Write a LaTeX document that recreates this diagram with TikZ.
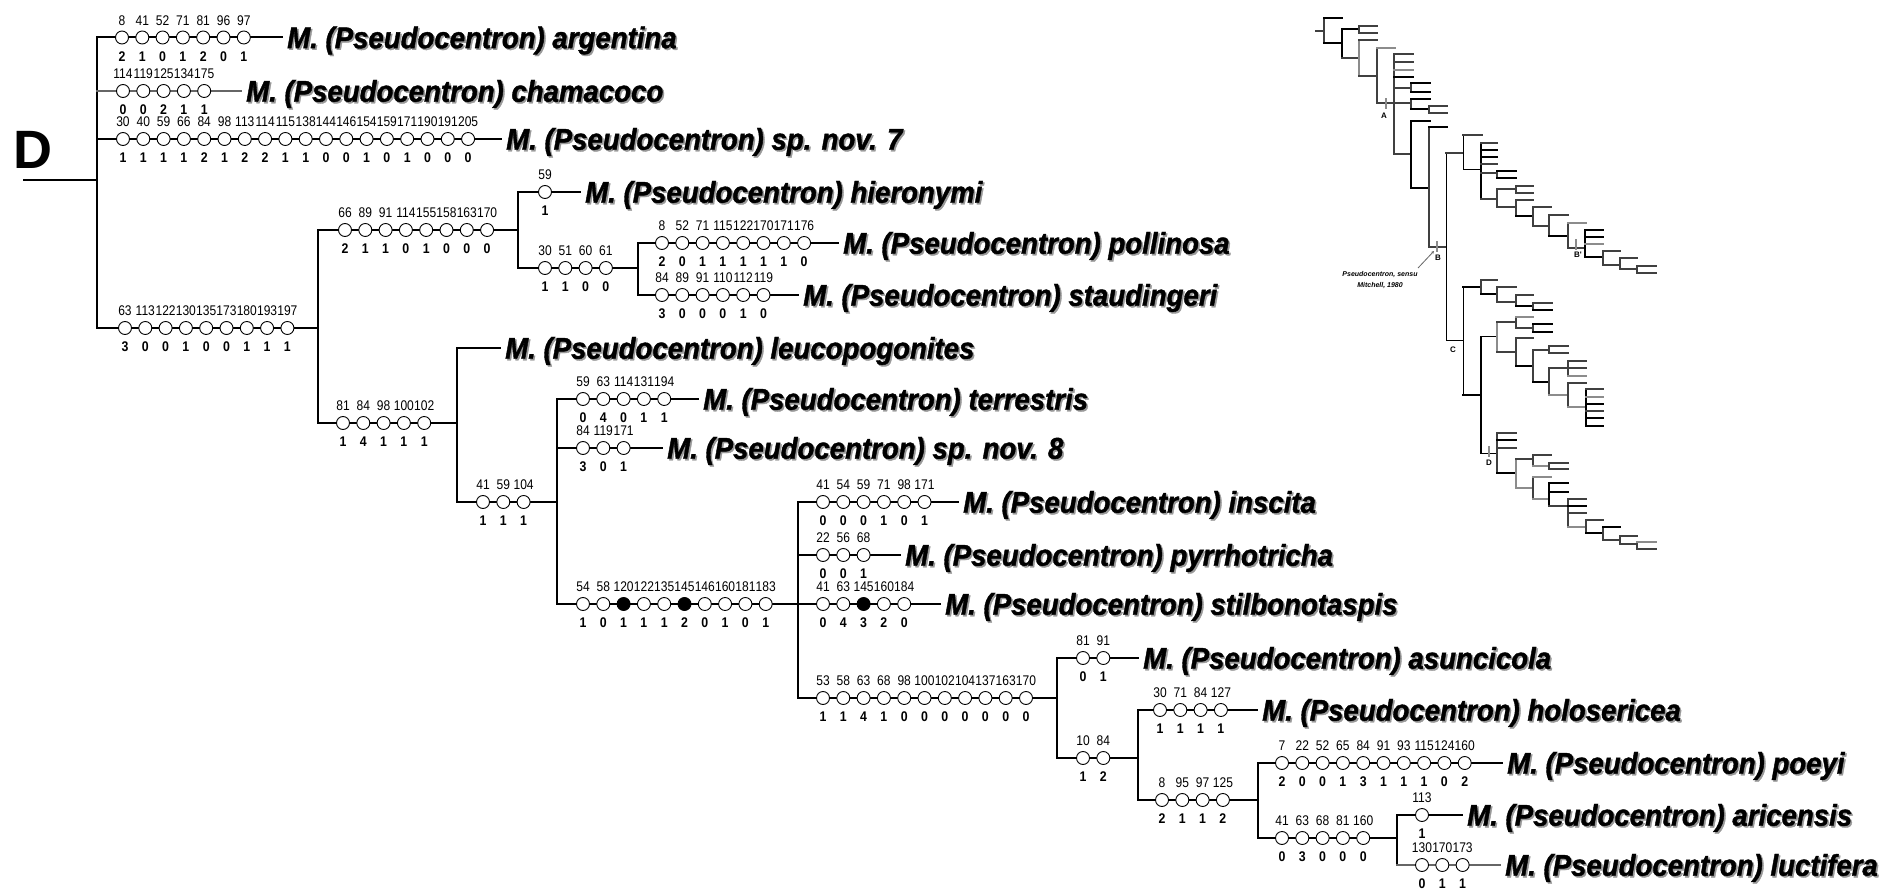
\documentclass[tikz,border=0pt]{standalone}
\usepackage{fontspec}
\setmainfont{Liberation Sans}
\newfontfamily\taxfam[FakeStretch=0.92,FakeBold=1.3]{Liberation Sans}
\newfontfamily\numfam[FakeStretch=0.86]{Liberation Sans}
\newfontfamily\valfam[FakeStretch=0.88]{Liberation Sans}
\newfontfamily\plainfam{Liberation Sans}
\usetikzlibrary{arrows.meta}
\pgfdeclarelayer{bg}
\pgfsetlayers{bg,main}
\tikzset{
  br/.style={line width=2pt, black, line cap=rect},
  grbr/.style={line width=2pt, black!60, line cap=rect},
  ch/.style={circle, draw=black, fill=white, line width=0.9pt, minimum size=13pt, inner sep=0pt},
  chf/.style={ch, fill=black},
  topnum/.style={font=\fontsize{14}{14}\selectfont\numfam, inner sep=0pt},
  botnum/.style={font=\fontsize{14}{14}\selectfont\valfam\bfseries, inner sep=0pt},
  taxon/.style={font=\fontsize{30}{32}\selectfont\taxfam\bfseries\itshape, anchor=base west, inner sep=0pt},
  taxshadow/.style={taxon, text=black!40},
  insa/.style={line width=1.4pt, black!75, line cap=rect},
  insb/.style={line width=2.2pt, black, line cap=rect},
  insc/.style={line width=1.4pt, black!45, line cap=rect},
  insd/.style={line width=1pt, black, line cap=rect},
  inlab/.style={font=\fontsize{8}{8}\selectfont\plainfam\bfseries, inner sep=0pt},
  innote/.style={font=\fontsize{7}{7}\selectfont\plainfam\bfseries\itshape, inner sep=0pt},
}
\newcommand\charrow[4]{%
  \foreach \chN/\chV/\chS [count=\chI] in {#4}{%
    \node[\chS] (#1c\chI) at ({#2+(\chI-1)*20.3},#3) {};
    \node[topnum] (#1a\chI) at ({#2+(\chI-1)*20.3},{#3-17}) {\chN};
    \node[botnum] (#1b\chI) at ({#2+(\chI-1)*20.3},{#3+19}) {\chV};
  }}
\newcommand\taxon[4]{%
  \node[taxshadow] (#1s) at ({#2+1.6},{#3+12.3}) {M. (Pseudocentron) #4};
  \node[taxon] (#1) at (#2,{#3+10.7}) {M. (Pseudocentron) #4};}
\newcommand\insH[4][insa]{\draw[#1] (#2,#4) -- (#3,#4);}
\newcommand\insV[4][insa]{\draw[#1] (#2,#3) -- (#2,#4);}
\begin{document}
\begin{tikzpicture}[x=1pt,y=-1pt]
\useasboundingbox (0,0) rectangle (1899,893);

% ---------- coordinates of branch starts / ends
\coordinate (root) at (24,180);
\coordinate (j0) at (97,180);
\coordinate (s1) at (97,37.5);
\coordinate (s2) at (97,91);
\coordinate (s3) at (97,139);
\coordinate (s4) at (97,328);
\coordinate (e4) at (318,328);
\coordinate (s5) at (318,230);
\coordinate (e5) at (518,230);
\coordinate (s6) at (518,192);
\coordinate (s7) at (518,268);
\coordinate (e7) at (638,268);
\coordinate (s8) at (638,243);
\coordinate (s9) at (638,295);
\coordinate (s10) at (318,423);
\coordinate (e10) at (457,423);
\coordinate (s11) at (457,348);
\coordinate (s12) at (457,502);
\coordinate (e12) at (557,502);
\coordinate (s13) at (557,399);
\coordinate (s14) at (557,448);
\coordinate (s15) at (557,604);
\coordinate (e15) at (798,604);
\coordinate (s16) at (798,502);
\coordinate (s17) at (798,555);
\coordinate (s18) at (798,604);
\coordinate (s19) at (798,698);
\coordinate (e19) at (1057,698);
\coordinate (s20) at (1057,658);
\coordinate (s21) at (1057,758);
\coordinate (e21) at (1138,758);
\coordinate (s22) at (1138,710);
\coordinate (s23) at (1138,800);
\coordinate (e23) at (1258,800);
\coordinate (s24) at (1258,763);
\coordinate (s25) at (1258,838);
\coordinate (e25) at (1397,838);
\coordinate (s26) at (1397,815);
\coordinate (s27) at (1397,865);

% ---------- root label
\node[font=\fontsize{54}{54}\selectfont\plainfam\bfseries, inner sep=0pt] (Dlab) at (33,150) {D};

% ---------- taxa
\taxon{t1}{287}{37.5}{argentina}
\taxon{t2}{246}{91}{chamacoco}
\taxon{t3}{506}{139}{sp. nov. 7}
\taxon{t6}{585}{192}{hieronymi}
\taxon{t8}{843}{243}{pollinosa}
\taxon{t9}{803}{295}{staudingeri}
\taxon{t11}{505}{348}{leucopogonites}
\taxon{t13}{703}{399}{terrestris}
\taxon{t14}{667}{448}{sp. nov. 8}
\taxon{t16}{963}{502}{inscita}
\taxon{t17}{905}{555}{pyrrhotricha}
\taxon{t18}{945}{604}{stilbonotaspis}
\taxon{t20}{1143}{658}{asuncicola}
\taxon{t22}{1262}{710}{holosericea}
\taxon{t24}{1507}{763}{poeyi}
\taxon{t26}{1467}{815}{aricensis}
\taxon{t27}{1505}{865}{luctifera}

% ---------- character states
\charrow{arg}{122}{37.5}{8/2/ch,41/1/ch,52/0/ch,71/1/ch,81/2/ch,96/0/ch,97/1/ch}
\charrow{cha}{123}{91}{114/0/ch,119/0/ch,125/2/ch,134/1/ch,175/1/ch}
\charrow{spa}{123}{139}{30/1/ch,40/1/ch,59/1/ch,66/1/ch,84/2/ch,98/1/ch,113/2/ch,114/2/ch,115/1/ch,138/1/ch,144/0/ch,146/0/ch,154/1/ch,159/0/ch,171/1/ch,190/0/ch,191/0/ch,205/0/ch}
\charrow{bfour}{125}{328}{63/3/ch,113/0/ch,122/0/ch,130/1/ch,135/0/ch,173/0/ch,180/1/ch,193/1/ch,197/1/ch}
\charrow{bfive}{345}{230}{66/2/ch,89/1/ch,91/1/ch,114/0/ch,155/1/ch,158/0/ch,163/0/ch,170/0/ch}
\charrow{hie}{545}{192}{59/1/ch}
\charrow{bseven}{545}{268}{30/1/ch,51/1/ch,60/0/ch,61/0/ch}
\charrow{pol}{662}{243}{8/2/ch,52/0/ch,71/1/ch,115/1/ch,122/1/ch,170/1/ch,171/1/ch,176/0/ch}
\charrow{sta}{662}{295}{84/3/ch,89/0/ch,91/0/ch,110/0/ch,112/1/ch,119/0/ch}
\charrow{bten}{343}{423}{81/1/ch,84/4/ch,98/1/ch,100/1/ch,102/1/ch}
\charrow{btwelve}{483}{502}{41/1/ch,59/1/ch,104/1/ch}
\charrow{ter}{583}{399}{59/0/ch,63/4/ch,114/0/ch,131/1/ch,194/1/ch}
\charrow{spb}{583}{448}{84/3/ch,119/0/ch,171/1/ch}
\charrow{bfifteen}{583}{604}{54/1/ch,58/0/ch,120/1/chf,122/1/ch,135/1/ch,145/2/chf,146/0/ch,160/1/ch,181/0/ch,183/1/ch}
\charrow{ins}{823}{502}{41/0/ch,54/0/ch,59/0/ch,71/1/ch,98/0/ch,171/1/ch}
\charrow{pyr}{823}{555}{22/0/ch,56/0/ch,68/1/ch}
\charrow{sti}{823}{604}{41/0/ch,63/4/ch,145/3/chf,160/2/ch,184/0/ch}
\charrow{bnineteen}{823}{698}{53/1/ch,58/1/ch,63/4/ch,68/1/ch,98/0/ch,100/0/ch,102/0/ch,104/0/ch,137/0/ch,163/0/ch,170/0/ch}
\charrow{asu}{1083}{658}{81/0/ch,91/1/ch}
\charrow{btwentyone}{1083}{758}{10/1/ch,84/2/ch}
\charrow{hol}{1160}{710}{30/1/ch,71/1/ch,84/1/ch,127/1/ch}
\charrow{btwentythree}{1162}{800}{8/2/ch,95/1/ch,97/1/ch,125/2/ch}
\charrow{poe}{1282}{763}{7/2/ch,22/0/ch,52/0/ch,65/1/ch,84/3/ch,91/1/ch,93/1/ch,115/1/ch,124/0/ch,160/2/ch}
\charrow{btwentyfive}{1282}{838}{41/0/ch,63/3/ch,68/0/ch,81/0/ch,160/0/ch}
\charrow{ari}{1422}{815}{113/1/ch}
\charrow{luc}{1422}{865}{130/0/ch,170/1/ch,173/1/ch}

% ---------- tree lines (behind the character circles)
\begin{pgfonlayer}{bg}
\fill[white] (0,0) rectangle (1899,893);
\draw[br] (root) -- (j0);
\draw[br] (s1) -- (s4);
\draw[br] (s5) -- (s10);
\draw[br] (s6) -- (s7);
\draw[br] (s8) -- (s9);
\draw[br] (s11) -- (s12);
\draw[br] (s13) -- (s15);
\draw[br] (s16) -- (s19);
\draw[br] (s20) -- (s21);
\draw[br] (s22) -- (s23);
\draw[br] (s24) -- (s25);
\draw[br] (s26) -- (s27);
\draw[br] (s1) -- ([xshift=-5pt]s1 -| t1.west);
\draw[grbr] (s2) -- ([xshift=-5pt]s2 -| t2.west);
\draw[br] (s3) -- ([xshift=-5pt]s3 -| t3.west);
\draw[br] (s4) -- (e4);
\draw[br] (s5) -- (e5);
\draw[br] (s6) -- ([xshift=-5pt]s6 -| t6.west);
\draw[br] (s7) -- (e7);
\draw[br] (s8) -- ([xshift=-5pt]s8 -| t8.west);
\draw[br] (s9) -- ([xshift=-5pt]s9 -| t9.west);
\draw[br] (s10) -- (e10);
\draw[br] (s11) -- ([xshift=-5pt]s11 -| t11.west);
\draw[br] (s12) -- (e12);
\draw[br] (s13) -- ([xshift=-5pt]s13 -| t13.west);
\draw[br] (s14) -- ([xshift=-5pt]s14 -| t14.west);
\draw[br] (s15) -- (e15);
\draw[br] (s16) -- ([xshift=-5pt]s16 -| t16.west);
\draw[br] (s17) -- ([xshift=-5pt]s17 -| t17.west);
\draw[br] (s18) -- ([xshift=-5pt]s18 -| t18.west);
\draw[br] (s19) -- (e19);
\draw[br] (s20) -- ([xshift=-5pt]s20 -| t20.west);
\draw[br] (s21) -- (e21);
\draw[br] (s22) -- ([xshift=-5pt]s22 -| t22.west);
\draw[br] (s23) -- (e23);
\draw[br] (s24) -- ([xshift=-5pt]s24 -| t24.west);
\draw[br] (s25) -- (e25);
\draw[br] (s26) -- ([xshift=-5pt]s26 -| t26.west);
\draw[grbr] (s27) -- ([xshift=-5pt]s27 -| t27.west);
\end{pgfonlayer}

% ---------- inset cladogram (drawn directly)
\insH{1316}{1324}{31}
\insV{1324}{18}{43}
\insH[insb]{1324}{1342}{18}
\insH[insb]{1324}{1342}{43}
\insV[insb]{1342}{29}{58}
\insH[insb]{1342}{1359}{29}
\insV{1359}{26}{33}
\insH{1359}{1377}{26}
\insH{1359}{1377}{33}
\insH{1342}{1359}{58}
\insV[insc]{1359}{40}{76}
\insH{1359}{1377}{40}
\insH{1359}{1377}{76}
\insV{1377}{48}{103}
\insH[insc]{1377}{1395}{48}
\insH{1377}{1394}{103}
\insV{1394}{54}{154}
\insH{1394}{1413}{54}
\insH{1394}{1413}{62}
\insH[insc]{1394}{1413}{70}
\insH[insb]{1394}{1413}{77}
\insH{1394}{1411}{88}
\insV{1411}{83}{92}
\insH[insb]{1411}{1430}{83}
\insH[insb]{1411}{1430}{92}
\insH{1394}{1411}{103}
\insV{1411}{99}{109}
\insH[insb]{1411}{1430}{99}
\insH[insb]{1411}{1429}{109}
\insV{1429}{106}{113}
\insH{1429}{1447}{106}
\insH{1429}{1447}{113}
\insV[insc]{1386}{99}{108}
\node[inlab] (insA) at (1384,116) {A};
\insH{1394}{1411}{154}
\insV[insb]{1411}{121}{188}
\insH[insb]{1411}{1430}{121}
\insH[insb]{1411}{1429}{188}
\insV{1429}{127}{247}
\insH[insb]{1429}{1447}{127}
\insH{1429}{1446}{247}
\insV[insd]{1446}{153}{341}
\insV[insc]{1437}{242}{251}
\node[inlab] (insB) at (1438,258) {B};
\coordinate (arrS) at (1418,268);
\coordinate (arrE) at (1434,251);
\draw[line width=0.8pt, black!60, -{Stealth[length=3pt,width=3pt]}] (arrS) -- (arrE);
\node[innote] (note1) at (1380,275) {Pseudocentron, sensu};
\node[innote] (note2) at (1380,286) {Mitchell, 1980};
\insH{1446}{1463}{153}
\insV[insd]{1463}{135}{170}
\insH{1463}{1482}{135}
\insH[insd]{1463}{1481}{170}
\insV[insb]{1481}{143}{199}
\insH{1481}{1497}{143}
\insH[insb]{1481}{1497}{150}
\insH[insb]{1481}{1497}{157}
\insH{1481}{1497}{164}
\insH{1481}{1497}{173}
\insV{1497}{171}{178}
\insH[insb]{1497}{1516}{171}
\insH[insb]{1497}{1516}{178}
\insH{1481}{1497}{199}
\insV{1497}{189}{207}
\insH{1497}{1516}{189}
\insV{1516}{186}{193}
\insH{1516}{1533}{186}
\insH{1516}{1533}{193}
\insH{1497}{1516}{207}
\insV{1516}{200}{216}
\insH{1516}{1533}{200}
\insH[insb]{1516}{1533}{216}
\insV{1533}{207}{226}
\insH{1533}{1551}{207}
\insH{1533}{1549}{226}
\insV{1549}{215}{236}
\insH{1549}{1568}{215}
\insH[insb]{1549}{1568}{236}
\insV{1568}{223}{248}
\insH[insc]{1568}{1586}{223}
\insH{1568}{1585}{248}
\insV[insb]{1585}{230}{257}
\insV[insc]{1576}{240}{249}
\node[inlab] (insBp) at (1578,255) {B'};
\insH[insb]{1585}{1603}{230}
\insH[insb]{1585}{1603}{237}
\insH[insc]{1585}{1603}{244}
\insH[insb]{1585}{1603}{257}
\insV{1603}{251}{265}
\insH{1603}{1620}{251}
\insH{1603}{1620}{265}
\insV{1620}{258}{269}
\insH{1620}{1637}{258}
\insH{1620}{1637}{269}
\insV{1637}{266}{273}
\insH{1637}{1656}{266}
\insH{1637}{1656}{273}
% C clade
\insH[insd]{1446}{1463}{341}
\insV[insd]{1463}{287}{395}
\node[inlab] (insC) at (1453,350) {C};
\insH[insb]{1463}{1481}{287}
\insV{1481}{280}{294}
\insH{1481}{1497}{280}
\insH[insb]{1481}{1497}{294}
\insV{1497}{287}{302}
\insH{1497}{1516}{287}
\insH{1497}{1516}{302}
\insV{1516}{295}{306}
\insH{1516}{1533}{295}
\insH[insb]{1516}{1533}{306}
\insV{1533}{303}{310}
\insH{1533}{1552}{303}
\insH[insb]{1533}{1552}{310}
\insH[insb]{1463}{1481}{395}
\insV[insb]{1481}{337}{453}
\insH[insd]{1481}{1497}{337}
\insV[insc]{1497}{322}{352}
\insH{1497}{1516}{322}
\insV{1516}{317}{328}
\insH[insc]{1516}{1533}{317}
\insH{1516}{1533}{328}
\insV{1533}{324}{332}
\insH[insb]{1533}{1552}{324}
\insH[insb]{1533}{1552}{332}
\insH{1497}{1516}{352}
\insV{1516}{338}{366}
\insH{1516}{1533}{338}
\insH[insb]{1516}{1533}{366}
\insV{1533}{350}{382}
\insH{1533}{1549}{350}
\insV{1549}{346}{353}
\insH{1549}{1568}{346}
\insH{1549}{1568}{353}
\insH[insb]{1533}{1549}{382}
\insV{1549}{368}{395}
\insH{1549}{1568}{368}
\insV{1568}{361}{376}
\insH{1568}{1586}{361}
\insH{1568}{1586}{368}
\insH[insc]{1568}{1586}{376}
\insH[insc]{1549}{1568}{395}
\insV{1568}{383}{407}
\insH{1568}{1586}{383}
\insH[insc]{1568}{1586}{407}
\insV[insb]{1586}{389}{426}
\insH{1586}{1603}{389}
\insH[insc]{1586}{1603}{397}
\insH[insb]{1586}{1603}{404}
\insH{1586}{1603}{411}
\insH[insb]{1586}{1603}{418}
\insH[insb]{1586}{1603}{426}
% D clade
\insH[insd]{1481}{1497}{453}
\insV[insc]{1489}{447}{456}
\node[inlab] (insD) at (1489,463) {D};
\insV{1497}{433}{473}
\insH{1497}{1516}{433}
\insH[insb]{1497}{1516}{440}
\insH{1497}{1516}{448}
\insH[insb]{1497}{1516}{473}
\insV[insc]{1516}{459}{488}
\insH{1516}{1533}{459}
\insV{1533}{455}{466}
\insH{1533}{1551}{455}
\insH[insc]{1533}{1549}{466}
\insV{1549}{463}{469}
\insH{1549}{1568}{463}
\insH{1549}{1568}{469}
\insH[insc]{1516}{1533}{488}
\insV{1533}{477}{499}
\insH[insc]{1533}{1551}{477}
\insH[insc]{1533}{1549}{499}
\insV[insb]{1549}{483}{506}
\insH[insb]{1549}{1568}{483}
\insH[insb]{1549}{1568}{492}
\insH{1549}{1568}{506}
\insV{1568}{499}{527}
\insH{1568}{1586}{499}
\insH[insb]{1568}{1586}{506}
\insH{1568}{1586}{513}
\insH[insc]{1568}{1586}{527}
\insV{1586}{520}{533}
\insH{1586}{1603}{520}
\insH[insb]{1586}{1603}{533}
\insV{1603}{527}{540}
\insH[insb]{1603}{1620}{527}
\insH{1603}{1620}{540}
\insV{1620}{536}{544}
\insH{1620}{1637}{536}
\insH{1620}{1637}{544}
\insV{1637}{542}{549}
\insH[insc]{1637}{1656}{542}
\insH{1637}{1656}{549}
\end{tikzpicture}
\end{document}
